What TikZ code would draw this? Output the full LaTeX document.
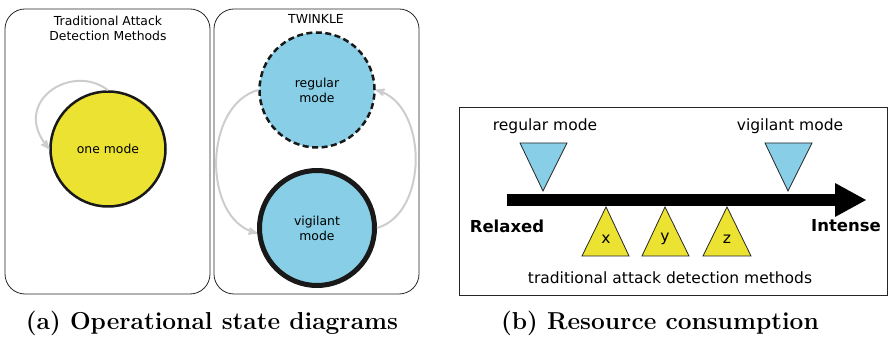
\documentclass[tikz,border=0pt]{standalone}
\usepackage{fontspec}
\newfontfamily\dejavu{DejaVu Sans}
\usepackage{tikz}
\usetikzlibrary{arrows,arrows.meta,positioning}
\definecolor{modeyellow}{RGB}{235,226,50}
\definecolor{modeblue}{RGB}{135,206,230}
\definecolor{loopgray}{RGB}{205,205,205}
\tikzstyle{panel} = [draw=black!85, line width=0.8pt, rounded corners=20pt]
\tikzstyle{title} = [align=center, font=\dejavu\fontsize{12.4}{15}\selectfont]
\tikzstyle{state} = [circle, draw=black!90, line width=2.5pt, minimum size=115pt, inner sep=0pt, align=center, font=\dejavu\fontsize{12.4}{15}\selectfont]
\tikzstyle{trans} = [draw=loopgray, line width=2pt, -stealth']
\tikzstyle{scalelbl} = [font=\dejavu\fontsize{15.5}{18}\selectfont]
\tikzstyle{endlbl} = [font=\dejavu\bfseries\fontsize{16.5}{19}\selectfont]
\tikzstyle{bluetri} = [draw=black!85, line width=0.8pt, fill=modeblue]
\tikzstyle{yellowtri} = [draw=black!85, line width=0.8pt, fill=modeyellow]
\tikzstyle{caption} = [font=\fontsize{24.5}{29}\selectfont\bfseries]

\begin{document}
\begin{tikzpicture}[x=1pt, y=1pt, node distance=138pt]
    \useasboundingbox (0,0) rectangle (888,337);
    % (a) state diagrams
    \draw [panel] (5,43) rectangle (210,328);
    \draw [panel] (214,43) rectangle (419,328);
    \node [title] (oldtitle) at (108,309) {Traditional Attack\\Detection Methods};
    \node [title] (newtitle) at (316,318) {TWINKLE};
    \node [state, fill=modeyellow] (one) at (108,188) {one mode};
    \node [state, fill=modeblue, dash pattern=on 6pt off 3.5pt] (regular) at (317,247) {regular\\mode};
    \node [state, fill=modeblue, line width=5pt, below of=regular] (vigilant) {vigilant\\mode};
    \path [trans] (one.north) .. controls (72,275) and (10,235) .. (one.west);
    \path [trans] (regular.west) .. controls +(-55,-15) and +(-55,15) .. (vigilant.185);
    \path [trans] (vigilant.east) .. controls +(52,15) and +(52,-15) .. (regular.east);
    % (b) resource consumption
    \draw [draw=black!85, line width=0.8pt] (459,42) rectangle (887,230);
    \node [scalelbl] (reglbl) at (545,211) {regular mode};
    \node [scalelbl] (viglbl) at (790,211) {vigilant mode};
    \draw [bluetri] (520,194) -- (567,194) -- (543,146) -- cycle;
    \draw [bluetri] (765,194) -- (812,194) -- (788,146) -- cycle;
    \coordinate (lo) at (507,137);
    \coordinate (hi) at (866,137);
    \draw [line width=12pt, -{Triangle[length=31pt,width=34pt,line width=0pt]}] (lo) -- (hi);
    \node [endlbl] (relaxed) at (507,111) {Relaxed};
    \node [endlbl] (intense) at (846,111) {Intense};
    \draw [yellowtri] (582,81) -- (629,81) -- (606,130) -- cycle;
    \draw [yellowtri] (642,81) -- (689,81) -- (665,130) -- cycle;
    \draw [yellowtri] (703,81) -- (751,81) -- (727,130) -- cycle;
    \node [scalelbl] (tx) at (606,98) {x};
    \node [scalelbl] (ty) at (665,98) {y};
    \node [scalelbl] (tz) at (727,98) {z};
    \node [scalelbl] (oldlbl) at (670,59) {traditional attack detection methods};
    % captions
    \node [caption] (capa) at (212,14) {(a) Operational state diagrams};
    \node [caption] (capb) at (660,14) {(b) Resource consumption};
\end{tikzpicture}
\end{document}
